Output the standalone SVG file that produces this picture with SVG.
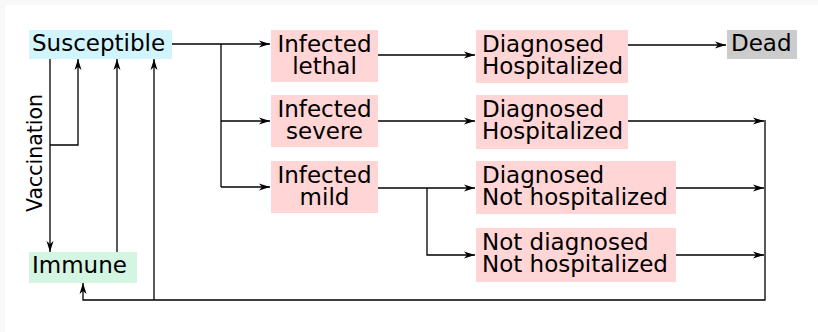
<svg xmlns="http://www.w3.org/2000/svg" width="818" height="332" viewBox="0 0 818 332">
<defs>
<style>
.t{font-family:"DejaVu Sans",Verdana,sans-serif;font-size:23px;fill:#000}
.c{text-anchor:middle}
.pink{fill:#ffd5d5}
.ln{fill:none;stroke:#000;stroke-width:1.3}
</style>
<marker id="a" markerWidth="12" markerHeight="8" refX="11" refY="4" orient="auto" markerUnits="userSpaceOnUse">
<path d="M0,0.5 L11,4 L0,7.5 L3,4 z" fill="#000"/>
</marker>
</defs>
<rect x="0" y="0" width="818" height="332" fill="#f8f8f8"/>
<rect x="5" y="5" width="813" height="327" fill="#fff"/>

<g id="connectors">
<path class="ln" d="M172,44 H270" marker-end="url(#a)"/>
<path class="ln" d="M221,44 V187"/>
<path class="ln" d="M221,121 H270" marker-end="url(#a)"/>
<path class="ln" d="M221,187 H270" marker-end="url(#a)"/>
<path class="ln" d="M378,55 H475" marker-end="url(#a)"/>
<path class="ln" d="M378,121 H475" marker-end="url(#a)"/>
<path class="ln" d="M378,188 H475" marker-end="url(#a)"/>
<path class="ln" d="M427,188 V255 H475" marker-end="url(#a)"/>
<path class="ln" d="M628,45 H726" marker-end="url(#a)"/>
<path class="ln" d="M628,121 H764" marker-end="url(#a)"/>
<path class="ln" d="M676,188 H764" marker-end="url(#a)"/>
<path class="ln" d="M676,255 H764" marker-end="url(#a)"/>
<path class="ln" d="M765,120 V300 H83 V283" marker-end="url(#a)"/>
<path class="ln" d="M154,300 V59" marker-end="url(#a)"/>
<path class="ln" d="M117,252 V59" marker-end="url(#a)"/>
<path class="ln" d="M50,59 V252" marker-end="url(#a)"/>
<path class="ln" d="M50,145 H78 V59" marker-end="url(#a)"/>
<text class="t c" style="font-size:20.5px" transform="translate(42,153) rotate(-90)">Vaccination</text>
</g>

<g id="susceptible">
<rect x="29" y="30" width="143" height="29" fill="#d2f4fc"/>
<text class="t" x="32" y="51">Susceptible</text>
</g>
<g id="immune">
<rect x="29" y="252" width="108" height="31" fill="#d5f5e3"/>
<text class="t" x="32" y="273">Immune</text>
</g>
<g id="infected-lethal">
<rect class="pink" x="271" y="30" width="107" height="52"/>
<text class="t c" x="324.5" y="52">Infected</text>
<text class="t c" x="324.5" y="74">lethal</text>
</g>
<g id="infected-severe">
<rect class="pink" x="271" y="95" width="107" height="52"/>
<text class="t c" x="324.5" y="117">Infected</text>
<text class="t c" x="324.5" y="139">severe</text>
</g>
<g id="infected-mild">
<rect class="pink" x="271" y="161" width="107" height="52"/>
<text class="t c" x="324.5" y="183">Infected</text>
<text class="t c" x="324.5" y="205">mild</text>
</g>
<g id="diag-hosp-lethal">
<rect class="pink" x="476" y="30" width="152" height="53"/>
<text class="t" x="482" y="52">Diagnosed</text>
<text class="t" x="482" y="74">Hospitalized</text>
</g>
<g id="diag-hosp-severe">
<rect class="pink" x="476" y="95" width="152" height="54"/>
<text class="t" x="482" y="117">Diagnosed</text>
<text class="t" x="482" y="139">Hospitalized</text>
</g>
<g id="diag-not-hosp">
<rect class="pink" x="476" y="161" width="200" height="53"/>
<text class="t" x="482" y="183">Diagnosed</text>
<text class="t" x="482" y="205">Not hospitalized</text>
</g>
<g id="not-diag-not-hosp">
<rect class="pink" x="476" y="228" width="200" height="54"/>
<text class="t" x="482" y="250">Not diagnosed</text>
<text class="t" x="482" y="272">Not hospitalized</text>
</g>
<g id="dead">
<rect x="727" y="30" width="70" height="29" fill="#cccccc"/>
<text class="t" x="731" y="51">Dead</text>
</g>
</svg>
